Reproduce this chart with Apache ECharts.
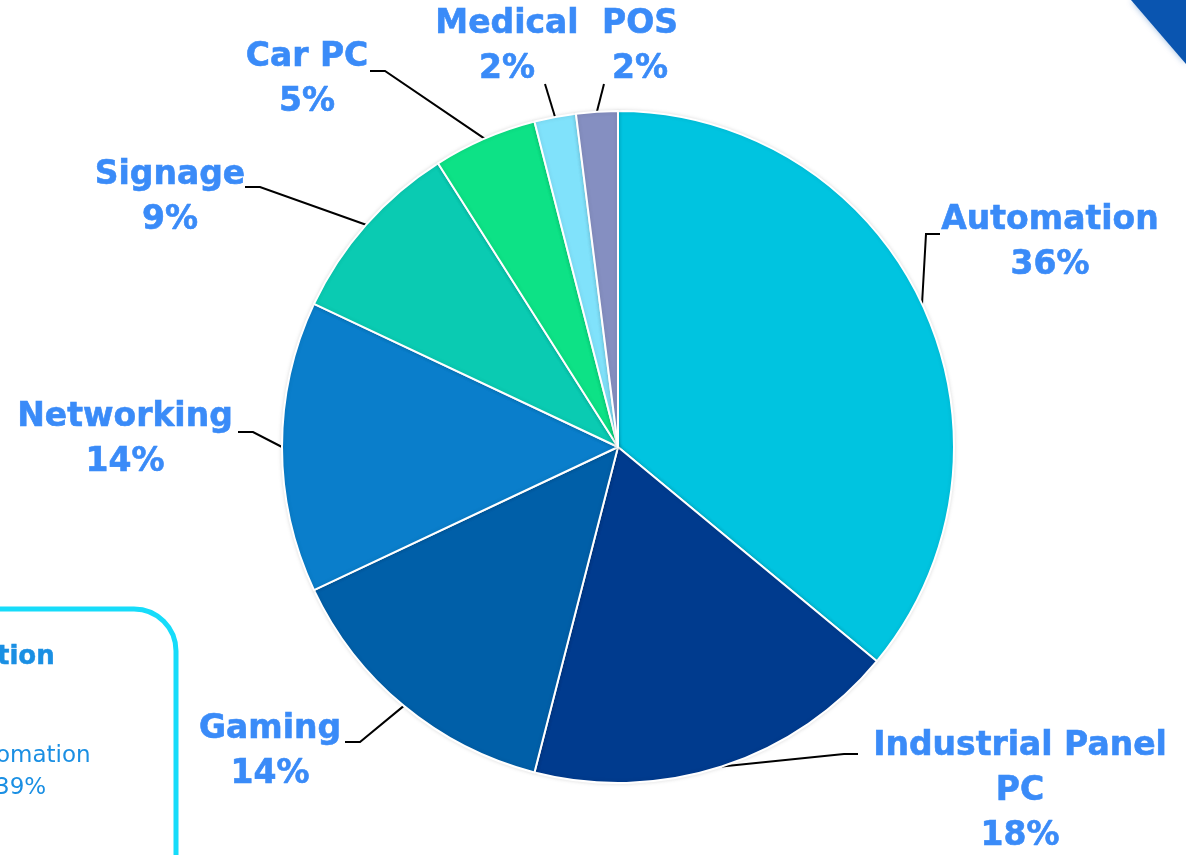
<!DOCTYPE html>
<html>
<head>
<meta charset="utf-8">
<script src="https://cdn.jsdelivr.net/npm/echarts@6/dist/echarts.min.js"></script>
<style>
html,body{margin:0;padding:0;background:#fff}
#main{width:1186px;height:855px}
</style>
</head>
<body>
<div id="main"></div>
<script>
// market share per segment (%)
var segments = ['Automation', 'Industrial Panel PC', 'Gaming', 'Networking', 'Signage', 'Car PC', 'Medical', 'POS']
var shares = [36, 18, 14, 14, 9, 5, 2, 2]
var colors = ['#00c4e0', '#003b8e', '#005fa8', '#0a7ecb', '#0acbb2', '#0de286', '#80e2fb', '#858fc1']

// where each label sits (center of text block) and where its leader line ends
var labelPos = [
    {x: 1050, y: 243, end: [940, 234], side: 'r'},
    {x: 1020, y: 791, end: [858, 754], side: 'r'},
    {x: 270, y: 752, end: [345, 742], side: 'l'},
    {x: 125, y: 440, end: [238, 432], side: 'l'},
    {x: 170, y: 198, end: [245, 187], side: 'l'},
    {x: 307, y: 80, end: [370, 71], side: 'l'},
    {x: 507, y: 47, end: [545, 84], side: 'n'},
    {x: 640, y: 47, end: [604, 84], side: 'n'}
]

var chart = echarts.init(document.getElementById('main'))

var data = []
for (var i = 0; i < segments.length; i++) {
    data.push({name: segments[i], value: shares[i], itemStyle: {color: colors[i]}})
}

var option = {
    animation: false,
    graphic: [
        // cut off box in the lower left corner
        {
            type: 'rect',
            shape: {x: -60, y: 609, width: 236, height: 300, r: 42},
            style: {fill: '#fff', stroke: '#16dcfa', lineWidth: 5},
            z: -1
        },
        {type: 'text', x: -3, y: 657, style: {text: 'tion', fill: '#1a8fe3', stroke: '#1a8fe3', lineWidth: 0.5, fontSize: 26, fontWeight: 'bold', fontFamily: 'DejaVu Sans', verticalAlign: 'middle'}},
        {type: 'text', x: -4, y: 756, style: {text: 'omation', fill: '#1a8fe3', fontSize: 23, fontFamily: 'DejaVu Sans', verticalAlign: 'middle'}},
        {type: 'text', x: -5, y: 788, style: {text: '39%', fill: '#1a8fe3', fontSize: 23, fontFamily: 'DejaVu Sans', verticalAlign: 'middle'}},
        // blue corner in the upper right
        {
            type: 'polygon',
            shape: {points: [[1131, 0], [1186, 0], [1186, 64]]},
            style: {fill: '#0a55b0', shadowBlur: 6, shadowColor: 'rgba(10,85,176,0.4)'}
        }
    ],
    series: [{
        type: 'pie',
        center: [618, 447],
        radius: [0, 336],
        startAngle: 90,
        clockwise: true,
        avoidLabelOverlap: false,
        itemStyle: {
            borderColor: '#fff',
            borderWidth: 2,
            shadowBlur: 4,
            shadowColor: 'rgba(0,0,0,0.12)'
        },
        label: {
            show: true,
            position: 'outside',
            color: '#3a8bf8',
            fontFamily: 'DejaVu Sans',
            fontWeight: 'bold',
            fontSize: 33,
            lineHeight: 45,
            width: 330,
            overflow: 'break',
            align: 'center',
            textBorderColor: '#3a8bf8',
            textBorderWidth: 0.6,
            formatter: function (p) {
                var n = p.name == 'Industrial Panel PC' ? 'Industrial Panel\nPC' : p.name
                return n + '\n' + p.value + '%'
            }
        },
        labelLine: {
            show: true,
            lineStyle: {color: '#000', width: 2}
        },
        labelLayout: function (p) {
            var lp = labelPos[p.dataIndex]
            var start = p.labelLinePoints ? p.labelLinePoints[0] : lp.end
            var pts
            if (lp.side == 'r') {
                pts = [start, [lp.end[0] - 14, lp.end[1]], lp.end]
            } else if (lp.side == 'l') {
                pts = [start, [lp.end[0] + 15, lp.end[1]], lp.end]
            } else {
                pts = [start, lp.end]
            }
            return {
                x: lp.x,
                y: lp.y,
                align: 'center',
                verticalAlign: 'middle',
                labelLinePoints: pts
            }
        },
        data: data
    }]
}
chart.setOption(option)
</script>
</body>
</html>
